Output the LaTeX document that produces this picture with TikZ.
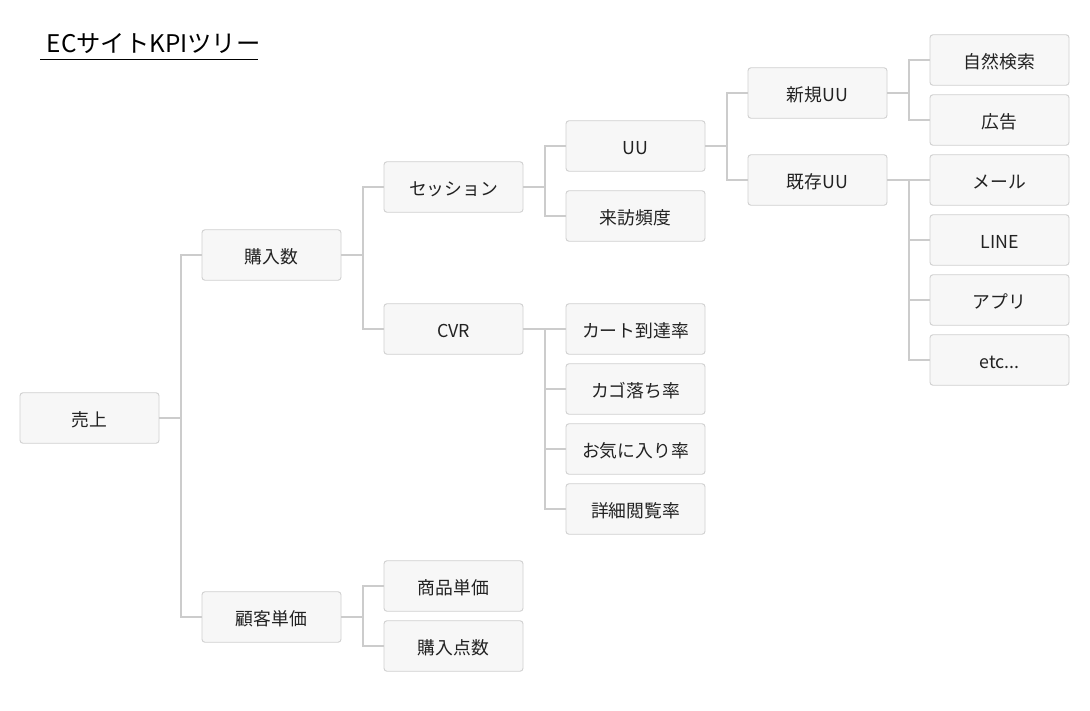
\documentclass[tikz,border=0pt]{standalone}
\usepackage{fontspec}
\setmainfont{Noto Sans CJK JP}
\definecolor{boxfill}{HTML}{F7F7F7}
\definecolor{boxline}{HTML}{D0D0D0}
\definecolor{conn}{HTML}{CCCCCC}
\definecolor{txt}{HTML}{222222}
\begin{document}
\begin{tikzpicture}[x=1pt,y=-1pt,
  kpibox/.style={rectangle,rounded corners=3pt,draw=boxline,line width=0.9pt,fill=boxfill,
    minimum width=139pt,minimum height=50.5pt,inner sep=0pt,text=txt,
    text height=16.2pt,text depth=0pt,
    font=\fontsize{17.8}{21}\selectfont},
  link/.style={draw=conn,line width=1.8pt}]
\useasboundingbox (0,0) rectangle (1090,710);
\fill[white] (0,0) rectangle (1090,710);
% title
\node[anchor=base west,inner sep=0pt,text=black,font=\fontsize{24.3}{29}\selectfont] (title) at (46.5,52.8) {ECサイトKPIツリー};
\coordinate (ul1) at (40,59.5);
\coordinate (ul2) at (258,59.5);
\draw[line width=1.2pt] (ul1) -- (ul2);
% nodes
\node[kpibox] (uri) at (89.5,418) {売上};
\node[kpibox] (kon) at (271.5,255) {購入数};
\node[kpibox] (kyaku) at (271.5,617) {顧客単価};
\node[kpibox] (ses) at (453.5,187) {セッション};
\node[kpibox] (cvr) at (453.5,329) {CVR};
\node[kpibox] (shohin) at (453.5,586) {商品単価};
\node[kpibox] (tensu) at (453.5,646) {購入点数};
\node[kpibox] (uu) at (635.5,146) {UU};
\node[kpibox] (raiho) at (635.5,216) {来訪頻度};
\node[kpibox] (cart) at (635.5,329) {カート到達率};
\node[kpibox] (kago) at (635.5,389) {カゴ落ち率};
\node[kpibox] (fav) at (635.5,449) {お気に入り率};
\node[kpibox] (detail) at (635.5,509) {詳細閲覧率};
\node[kpibox] (shinki) at (817.5,93) {新規UU};
\node[kpibox] (kison) at (817.5,180) {既存UU};
\node[kpibox] (shizen) at (999.5,60) {自然検索};
\node[kpibox] (kokoku) at (999.5,120) {広告};
\node[kpibox] (mail) at (999.5,180) {メール};
\node[kpibox] (line) at (999.5,240) {LINE};
\node[kpibox] (app) at (999.5,300) {アプリ};
\node[kpibox] (etc) at (999.5,360) {etc...};
% connectors
\foreach \p/\c in {uri/kon,uri/kyaku,kon/ses,kon/cvr,kyaku/shohin,kyaku/tensu,
  ses/uu,ses/raiho,cvr/cart,cvr/kago,cvr/fav,cvr/detail,
  uu/shinki,uu/kison,shinki/shizen,shinki/kokoku,
  kison/mail,kison/line,kison/app,kison/etc}
  \draw[link] (\p.east) -- ++(21.5,0) |- (\c.west);
\end{tikzpicture}
\end{document}
